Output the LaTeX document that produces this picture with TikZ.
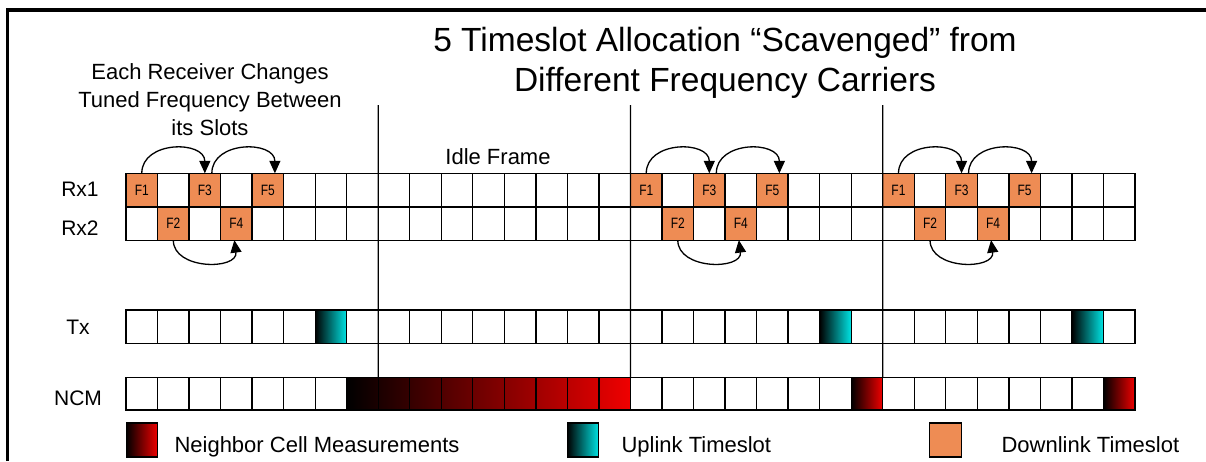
\documentclass[tikz,border=0pt]{standalone}
\usepackage{fontspec}
\setmainfont{Liberation Sans}
\newfontfamily\narrowfont[FakeStretch=0.8]{Liberation Sans}
\usetikzlibrary{arrows.meta}
\definecolor{dl}{RGB}{238,140,84}
\definecolor{ul}{RGB}{0,228,228}
\definecolor{nc}{RGB}{240,0,0}
\begin{document}
\begin{tikzpicture}[x=1pt,y=-1pt,
  slot/.style={draw=black,line width=1.3pt,minimum width=31.53pt,minimum height=33.3pt,
    inner sep=0pt,outer sep=0pt,font=\narrowfont\fontsize{15}{15}\selectfont},
  dlslot/.style={slot,fill=dl},
  ulslot/.style={slot,left color=black,right color=ul},
  ncslot/.style={slot,left color=black,right color=nc},
  rowlabel/.style={anchor=base,font=\fontsize{21}{25}\selectfont},
  txt/.style={anchor=base,font=\fontsize{22}{26}\selectfont},
  legtxt/.style={anchor=base west,font=\fontsize{22}{26}\selectfont},
  hop/.style={line width=1.3pt,-{Triangle[length=12.5pt,width=11pt]}},
  frameline/.style={line width=3.2pt},
  vline/.style={line width=1.2pt}]
\useasboundingbox (0,0) rectangle (1206,461);
% frame
\draw[frameline] (7.6,461) -- (7.6,10) -- (1206,10);
% titles
\node[anchor=base,font=\fontsize{33.5}{40}\selectfont] (title1) at (725,51) {5 Timeslot Allocation “Scavenged” from};
\node[anchor=base,font=\fontsize{33.5}{40}\selectfont] (title2) at (725,91) {Different Frequency Carriers};
\node[txt] (each1) at (210,79) {Each Receiver Changes};
\node[txt] (each2) at (210,107) {Tuned Frequency Between};
\node[txt] (each3) at (210,135) {its Slots};
\node[txt] (idle) at (498,164) {Idle Frame};
% row labels
\node[rowlabel] (lrx1) at (80,196) {Rx1};
\node[rowlabel] (lrx2) at (80,235) {Rx2};
\node[rowlabel] (ltx) at (78,334) {Tx};
\node[rowlabel] (lncm) at (78,405) {NCM};
% long NCM gradient
\shade[left color=black,right color=nc] (346.7,377) rectangle (630.5,410);
% Rx1 row
\foreach \i in {1,3,5,6,7,8,9,10,11,12,13,14,15,17,19,21,22,23,25,27,29,30,31}
  \node[slot] (r1-\i) at ({126+(\i+0.5)*31.53},190) {};
\foreach \g in {0,16,24} {
  \foreach \k/\lab in {0/F1,2/F3,4/F5} {
    \pgfmathtruncatemacro\n{\g+\k}
    \node[dlslot] (r1-\n) at ({126+(\n+0.5)*31.53},190) {\lab};
  }
}
% Rx2 row
\foreach \i in {0,2,4,5,6,7,8,9,10,11,12,13,14,15,16,18,20,21,22,23,24,26,28,29,30,31}
  \node[slot] (r2-\i) at ({126+(\i+0.5)*31.53},223.5) {};
\foreach \g in {0,16,24} {
  \foreach \k/\lab in {1/F2,3/F4} {
    \pgfmathtruncatemacro\n{\g+\k}
    \node[dlslot] (r2-\n) at ({126+(\n+0.5)*31.53},223.5) {\lab};
  }
}
% Tx row
\foreach \i in {0,1,2,3,4,5,7,8,9,10,11,12,13,14,15,16,17,18,19,20,21,23,24,25,26,27,28,29,31}
  \node[slot] (tx-\i) at ({126+(\i+0.5)*31.53},326.7) {};
\foreach \i in {6,22,30}
  \node[ulslot] (tx-\i) at ({126+(\i+0.5)*31.53},326.7) {};
% NCM row
\foreach \i in {0,1,2,3,4,5,6,7,8,9,10,11,12,13,14,15,16,17,18,19,20,21,22,24,25,26,27,28,29,30}
  \node[slot,minimum height=32.7pt] (ncm-\i) at ({126+(\i+0.5)*31.53},393.5) {};
\foreach \i in {23,31}
  \node[ncslot,minimum height=32.7pt] (ncm-\i) at ({126+(\i+0.5)*31.53},393.5) {};
% frame separators
\coordinate (t1) at (378.3,105);
\coordinate (t2) at (630.5,105);
\coordinate (t3) at (882.7,105);
\draw[vline] (t1) -- (ncm-7.north east);
\draw[vline] (t2) -- (ncm-15.north east);
\draw[vline] (t3) -- (ncm-23.north east);
% hop arrows
\foreach \g in {0,16,24} {
  \pgfmathtruncatemacro\a{\g}
  \pgfmathtruncatemacro\b{\g+2}
  \pgfmathtruncatemacro\c{\g+4}
  \pgfmathtruncatemacro\d{\g+1}
  \pgfmathtruncatemacro\e{\g+3}
  \draw[hop] (r1-\a.north) .. controls +(0,-33) and +(0,-33) .. (r1-\b.north);
  \draw[hop] ([xshift=7pt]r1-\b.north) .. controls +(0,-33) and +(0,-33) .. ([xshift=7pt]r1-\c.north);
  \draw[hop] (r2-\d.south) .. controls +(0,30) and +(4,30) .. ([xshift=-2pt]r2-\e.south);
}
% legend
\node[ncslot,minimum height=34pt] (lg-nc) at (142,440) {};
\node[legtxt] (lt-nc) at (171,452.5) {Neighbor Cell Measurements};
\node[ulslot,minimum height=34pt] (lg-ul) at (583,440) {};
\node[legtxt] (lt-ul) at (618,452.5) {Uplink Timeslot};
\node[dlslot,minimum height=34pt] (lg-dl) at (945.5,440) {};
\node[legtxt] (lt-dl) at (998,452.5) {Downlink Timeslot};
\end{tikzpicture}
\end{document}
